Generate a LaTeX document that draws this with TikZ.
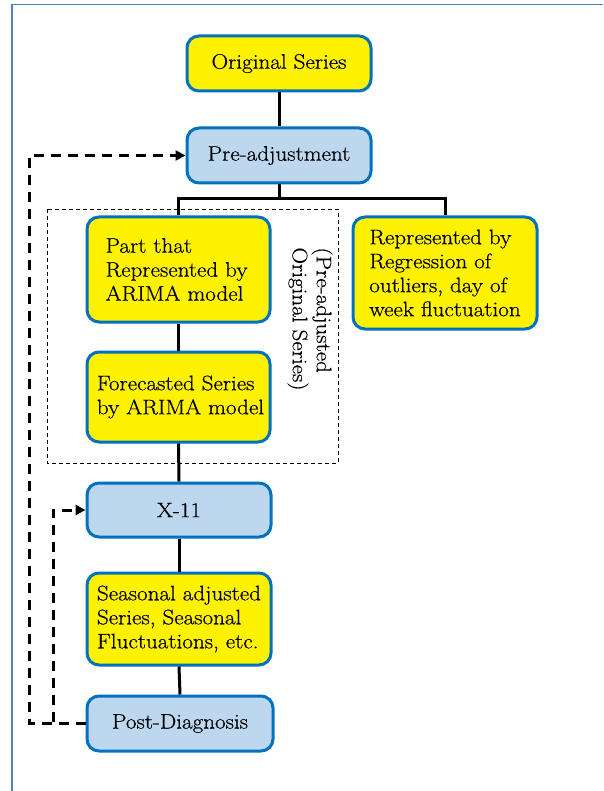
\documentclass[tikz,border=0pt]{standalone}
\usepackage{fontspec}
\setmainfont[FakeStretch=1.1,FakeBold=0.6]{Latin Modern Roman}
\usetikzlibrary{arrows.meta}
\definecolor{bordblue}{HTML}{0070C0}
\definecolor{lightblue}{HTML}{BDD7EE}
\definecolor{framecol}{HTML}{4F81BD}
\begin{document}
\begin{tikzpicture}[x=1pt,y=-1pt,
  box/.style={draw=bordblue, line width=3pt, rounded corners=12pt, text=black,
    font=\fontsize{21}{24}\selectfont, inner sep=0pt},
  ybox/.style={box, fill=yellow},
  bbox/.style={box, fill=lightblue},
  conn/.style={line width=3pt, draw=black},
  loop/.style={line width=3pt, draw=black, dash pattern=on 10pt off 7pt,
    -{Triangle[length=10pt,width=10pt]}}
]
\useasboundingbox (0,0) rectangle (603,791);
% frame
\draw[framecol, line width=1.5pt] (12,791) -- (12,4.5) -- (603,4.5);

% dashed group rectangle
\draw[dashed, line width=0.8pt, dash pattern=on 4pt off 3pt] (47,209) rectangle (338,463);
\node[rotate=-90, align=left, font=\fontsize{21}{24}\selectfont, inner sep=0pt] (grp) at (310,319)
  {(Pre-adjusted\\Original Series)};

% nodes
\node[ybox, minimum width=184pt, minimum height=55pt] (orig) at (279,63.5) {Original Series};
\node[bbox, minimum width=184pt, minimum height=55pt] (pre) at (279,155.5) {Pre-adjustment};
\node[ybox, minimum width=183pt, minimum height=105pt, align=left] (part) at (178.5,269.5)
  {Part that\\Represented by\\ARIMA model\hspace*{8pt}};
\node[ybox, minimum width=184pt, minimum height=112pt, align=left] (rep) at (445,273)
  {Represented by\\Regression of\\outliers, day of\\week fluctuation};
\node[ybox, minimum width=183pt, minimum height=90pt, align=left] (fore) at (178.5,397)
  {\hspace*{4pt}Forecasted Series\\\hspace*{4pt}by ARIMA model};
\node[bbox, minimum width=184pt, minimum height=54pt] (x11) at (179,510) {X-11};
\node[ybox, minimum width=184pt, minimum height=92pt, align=left] (seas) at (179,619)
  {Seasonal adjusted\\Series, Seasonal\\Fluctuations, etc.};
\node[bbox, minimum width=186pt, minimum height=55pt] (post) at (180,723.5) {Post-Diagnosis};

% connectors
\coordinate (br) at (279,199);
\draw[conn] (orig.south) -- (pre.north);
\draw[conn] (pre.south) -- (br);
\draw[conn] (br) -| (part.north);
\draw[conn] (br) -| (rep.north);
\draw[conn] (part.south) -- (fore.north);
\draw[conn] (fore.south) -- (x11.north);
\draw[conn] (x11.south) -- (seas.north);
\draw[conn] (seas.south) -- (post.north);

% feedback loops
\coordinate (lo1) at (29,723.5);
\coordinate (lo2) at (53,723.5);
\draw[loop] (post.west) -- (lo1) |- (pre.west);
\draw[loop] (post.west) -- (lo2) |- (x11.west);
\end{tikzpicture}
\end{document}
